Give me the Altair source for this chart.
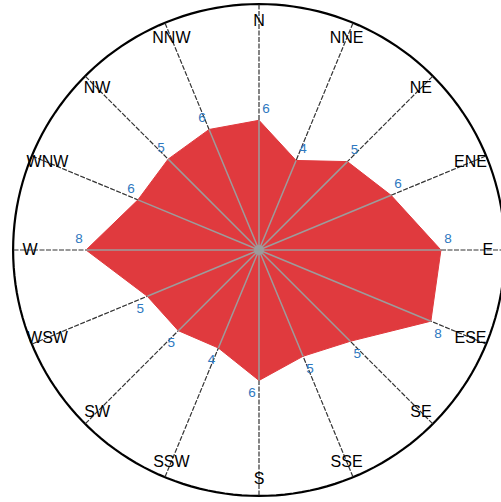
import altair as alt
import pandas as pd

# Wind-direction frequencies (%) for the 16 compass points, clockwise from north
directions = ["N", "NNE", "NE", "ENE", "E", "ESE", "SE", "SSE",
              "S", "SSW", "SW", "WSW", "W", "WNW", "NW", "NNW"]
frequency = [5.51, 3.83, 5.27, 6.19, 8.19, 8.40, 5.48, 4.76,
             5.55, 4.30, 4.71, 5.06, 7.73, 5.58, 5.45, 5.55]

# Radial scale: origin sits a little below zero, outer ring and label ring in value units
RADIAL_OFFSET = 1.14
OUTER_RING = 11.47
LABEL_RING = 10.6

# Canvas geometry
W, H = 501, 502
CX, CY = 259, 250
PX_PER_UNIT = 19.5

RED = "#e03a3e"
BLUE = "#2e78c0"
FONT = "Liberation Sans"

xs = alt.Scale(domain=[-CX / PX_PER_UNIT, (W - CX) / PX_PER_UNIT], nice=False, zero=False)
ys = alt.Scale(domain=[-(H - CY) / PX_PER_UNIT, CY / PX_PER_UNIT], nice=False, zero=False)

df = pd.DataFrame({"dir": directions, "value": frequency, "idx": list(range(len(directions)))})

R_OUT = OUTER_RING + RADIAL_OFFSET
R_LAB = LABEL_RING + RADIAL_OFFSET

base = alt.Chart(df).transform_calculate(
    theta="datum.idx * PI / 8",
    rr=f"datum.value + {RADIAL_OFFSET}",
).transform_calculate(
    c0="0",
    vx="datum.rr * sin(datum.theta)",
    vy="datum.rr * cos(datum.theta)",
    ox=f"{R_OUT} * sin(datum.theta)",
    oy=f"{R_OUT} * cos(datum.theta)",
    tx=f"{R_LAB} * sin(datum.theta)",
    ty=f"{R_LAB} * cos(datum.theta)",
).transform_calculate(
    lx="datum.vx + (datum.idx < 8 ? 0.36 : -0.36)",
    ly="datum.vy + (cos(datum.theta) > -0.01 ? 0.58 : -0.64)",
)

# Outer ring
ring = alt.Chart(alt.sequence(0, 361, 2, as_="deg")).transform_calculate(
    x=f"{R_OUT} * sin(datum.deg * PI / 180)",
    y=f"{R_OUT} * cos(datum.deg * PI / 180)",
).mark_line(color="black", strokeWidth=2.2).encode(
    x=alt.X("x:Q", scale=xs, axis=None),
    y=alt.Y("y:Q", scale=ys, axis=None),
    order=alt.Order("deg:Q"),
)

# Full-length spokes to the ring
spokes = base.mark_rule(color="#333333", strokeWidth=1.2, strokeDash=[5, 1.5]).encode(
    x=alt.X("c0:Q", scale=xs, axis=None),
    y=alt.Y("c0:Q", scale=ys, axis=None),
    x2="ox:Q",
    y2="oy:Q",
)

# Frequency polygon
polygon = base.mark_line(
    interpolate="linear-closed", fill=RED, stroke=RED, strokeWidth=1
).encode(
    x=alt.X("vx:Q", scale=xs, axis=None),
    y=alt.Y("vy:Q", scale=ys, axis=None),
    order=alt.Order("idx:Q"),
)

# Grey spokes inside the polygon
inner = base.mark_rule(color="#9c9c9c", strokeWidth=1.5).encode(
    x=alt.X("c0:Q", scale=xs, axis=None),
    y=alt.Y("c0:Q", scale=ys, axis=None),
    x2="vx:Q",
    y2="vy:Q",
)

hub = base.transform_filter("datum.idx == 0").mark_point(
    filled=True, color="#9c9c9c", size=100, opacity=1, shape="circle"
).encode(
    x=alt.X("c0:Q", scale=xs, axis=None),
    y=alt.Y("c0:Q", scale=ys, axis=None),
)

values = base.mark_text(color=BLUE, fontSize=13.5, font=FONT).encode(
    x=alt.X("lx:Q", scale=xs, axis=None),
    y=alt.Y("ly:Q", scale=ys, axis=None),
    text=alt.Text("value:Q", format=".0f"),
)

names = base.mark_text(color="#000000", fontSize=16, font=FONT).encode(
    x=alt.X("tx:Q", scale=xs, axis=None),
    y=alt.Y("ty:Q", scale=ys, axis=None),
    text="dir:N",
)

chart = alt.layer(ring, spokes, polygon, inner, hub, values, names).properties(
    width=W, height=H, autosize="none", padding=0
).configure_view(stroke=None)

chart.save("out.html", embed_options={"renderer": "svg", "actions": False})
